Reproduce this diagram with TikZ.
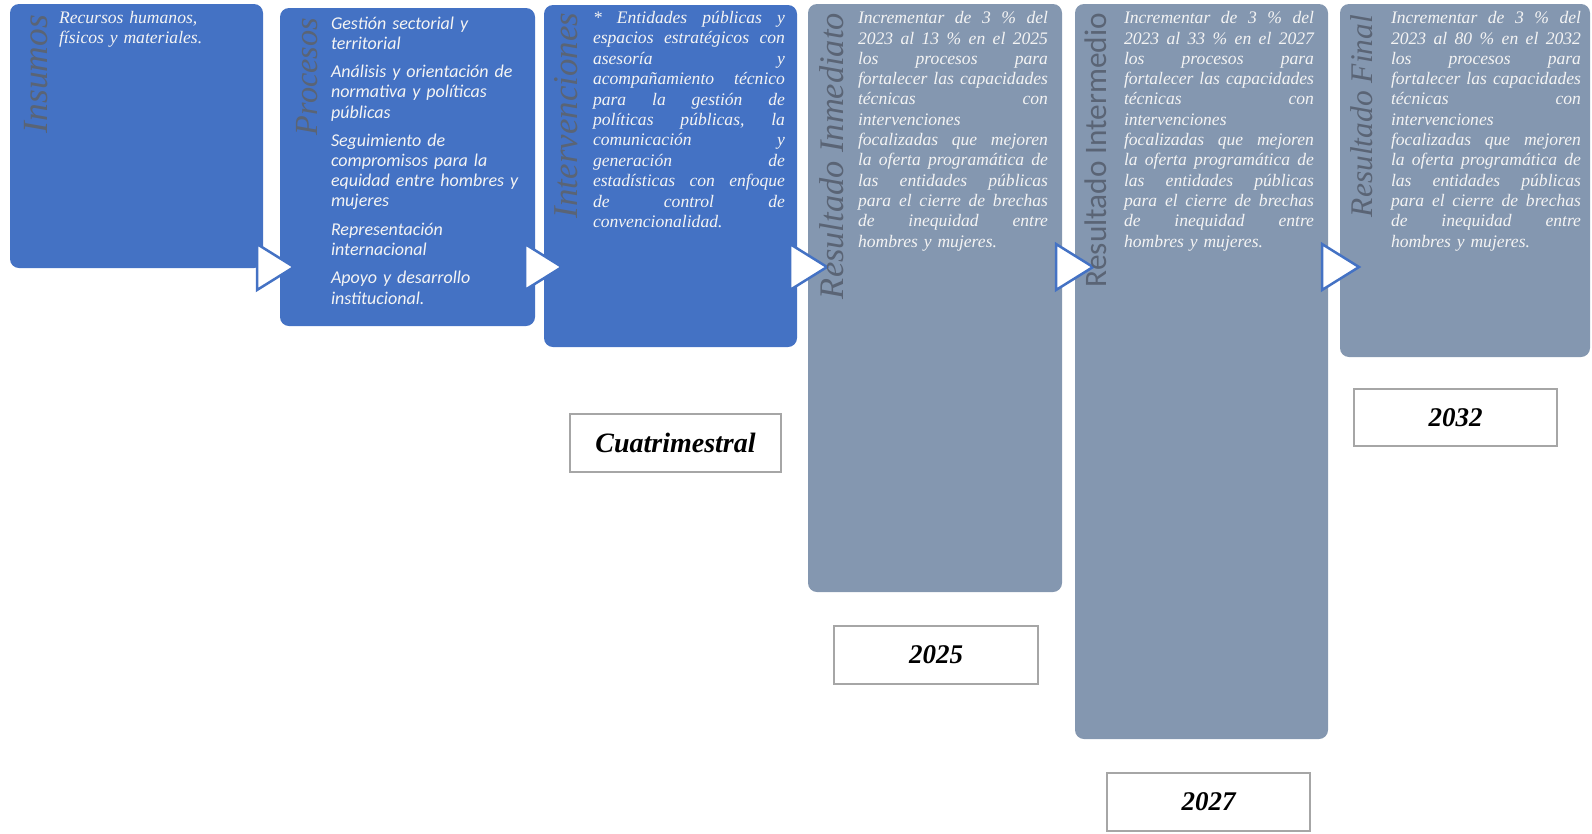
\documentclass[tikz,border=0pt]{standalone}
\usepackage{fontspec}
\setmainfont{Liberation Serif}
\newfontfamily\calibrifont{Carlito}
\definecolor{boxblue}{HTML}{4472C4}
\definecolor{boxgray}{HTML}{8497B0}
\definecolor{labelgray}{HTML}{5A6475}
\definecolor{txt}{HTML}{F4F4F4}
\definecolor{yearborder}{HTML}{A6A6A6}
\newcommand{\mybody}{\itshape\fontsize{17.6}{20.3}\selectfont}
\newcommand{\myinterv}{\itshape\fontsize{17.6}{20.4}\selectfont}
\newcommand{\myproc}{\calibrifont\itshape\fontsize{18}{20.15}\selectfont}
\newcommand{\myyear}{\bfseries\itshape\fontsize{27}{30}\selectfont}
\begin{document}
\begin{tikzpicture}[x=1pt,y=-1pt]
\tikzset{
  stage/.style={rounded corners=9pt, inner sep=0pt, outer sep=0pt, anchor=north west},
  bluestage/.style={stage, fill=boxblue},
  graystage/.style={stage, fill=boxgray},
  body/.style={inner sep=0pt, outer sep=0pt, anchor=north west, text=txt, align=left},
  vlabel/.style={inner sep=0pt, outer sep=0pt, rotate=90, anchor=base east, text=labelgray},
  yearbox/.style={draw=yearborder, line width=2.5pt, fill=white, inner sep=0pt, font=\myyear},
  arrowhead/.style={fill=white, draw=boxblue, line width=2.5pt, line join=miter},
}
\useasboundingbox (0,0) rectangle (1592,833);

% stages
\node[bluestage, minimum width=253pt, minimum height=264pt] (insumos) at (10,4) {};
\node[bluestage, minimum width=255pt, minimum height=318pt] (procesos) at (280,8) {};
\node[bluestage, minimum width=253pt, minimum height=342pt] (interv) at (544,5) {};
\node[graystage, minimum width=254pt, minimum height=588pt] (inmediato) at (808,4) {};
\node[graystage, minimum width=253pt, minimum height=735pt] (intermedio) at (1075,4) {};
\node[graystage, minimum width=250pt, minimum height=353pt] (final) at (1340,4) {};

% arrows between stages
\draw[arrowhead] (257,244) -- (294,267) -- (257,290) -- cycle;
\draw[arrowhead] (525,244) -- (562,267) -- (525,290) -- cycle;
\draw[arrowhead] (790,244) -- (827,267) -- (790,290) -- cycle;
\draw[arrowhead] (1056,244) -- (1093,267) -- (1056,290) -- cycle;
\draw[arrowhead] (1322,244) -- (1359,267) -- (1322,290) -- cycle;

% vertical labels
\node[vlabel] (lbinsumos) at (47,15) {\resizebox{118pt}{!}{\itshape Insumos}};
\node[vlabel] (lbprocesos) at (317,18) {\resizebox{117pt}{!}{\itshape Procesos}};
\node[vlabel] (lbinterv) at (577,13) {\resizebox{205pt}{!}{\itshape Intervenciones}};
\node[vlabel] (lbinmediato) at (843,13) {\resizebox{286pt}{!}{\itshape Resultado Inmediato}};
\node[vlabel] (lbintermedio) at (1106,13) {\resizebox{274pt}{!}{\calibrifont Resultado Intermedio}};
\node[vlabel] (lbfinal) at (1372,15) {\resizebox{202pt}{!}{\itshape Resultado Final}};

% body texts
\node[body, text width=200pt, font=\mybody] (txinsumos) at (59,9) {\strut Recursos humanos,\\ físicos y materiales.};

\node[body, text width=205pt, font=\myproc] (txprocesos) at (331,15) {\strut Gestión sectorial y\\ territorial\\[8.3pt]
Análisis y orientación de\\ normativa y políticas\\ públicas\\[8.3pt]
Seguimiento de\\ compromisos para la\\ equidad entre hombres y\\ mujeres\\[8.3pt]
Representación\\ internacional\\[8.3pt]
Apoyo y desarrollo\\ institucional.};

\node[body, text width=192pt, font=\myinterv] (txinterv) at (593,9.3) {\strut *\hfill Entidades\hfill públicas\hfill y\\
espacios\hfill estratégicos\hfill con\\
asesoría\hfill y\\
acompañamiento\hfill técnico\\
para\hfill la\hfill gestión\hfill de\\
políticas\hfill públicas,\hfill la\\
comunicación\hfill y\\
generación\hfill de\\
estadísticas\hfill con\hfill enfoque\\
de\hfill control\hfill de\\
convencionalidad.};

\node[body, text width=190pt, font=\mybody] (txinmediato) at (858,9.5) {\strut Incrementar\hfill de\hfill 3\hfill \%\hfill del\\
2023\hfill al\hfill 13\hfill \%\hfill en\hfill el\hfill 2025\\
los\hfill procesos\hfill para\\
fortalecer\hfill las\hfill capacidades\\
técnicas\hfill con\\
intervenciones\\
focalizadas\hfill que\hfill mejoren\\
la\hfill oferta\hfill programática\hfill de\\
las\hfill entidades\hfill públicas\\
para\hfill el\hfill cierre\hfill de\hfill brechas\\
de\hfill inequidad\hfill entre\\
hombres y mujeres.};

\node[body, text width=190pt, font=\mybody] (txintermedio) at (1124,9.5) {\strut Incrementar\hfill de\hfill 3\hfill \%\hfill del\\
2023\hfill al\hfill 33\hfill \%\hfill en\hfill el\hfill 2027\\
los\hfill procesos\hfill para\\
fortalecer\hfill las\hfill capacidades\\
técnicas\hfill con\\
intervenciones\\
focalizadas\hfill que\hfill mejoren\\
la\hfill oferta\hfill programática\hfill de\\
las\hfill entidades\hfill públicas\\
para\hfill el\hfill cierre\hfill de\hfill brechas\\
de\hfill inequidad\hfill entre\\
hombres y mujeres.};

\node[body, text width=190pt, font=\mybody] (txfinal) at (1391,9.5) {\strut Incrementar\hfill de\hfill 3\hfill \%\hfill del\\
2023\hfill al\hfill 80\hfill \%\hfill en\hfill el\hfill 2032\\
los\hfill procesos\hfill para\\
fortalecer\hfill las\hfill capacidades\\
técnicas\hfill con\\
intervenciones\\
focalizadas\hfill que\hfill mejoren\\
la\hfill oferta\hfill programática\hfill de\\
las\hfill entidades\hfill públicas\\
para\hfill el\hfill cierre\hfill de\hfill brechas\\
de\hfill inequidad\hfill entre\\
hombres y mujeres.};

% time boxes
\node[yearbox, minimum width=211pt, minimum height=58pt] (tcuatri) at (675.5,443) {\fontsize{28}{30}\selectfont Cuatrimestral};
\node[yearbox, minimum width=204pt, minimum height=58pt] (t2025) at (936,655) {2025};
\node[yearbox, minimum width=203pt, minimum height=58pt] (t2027) at (1208.5,802) {2027};
\node[yearbox, minimum width=203pt, minimum height=57pt] (t2032) at (1455.5,417.5) {2032};
\end{tikzpicture}
\end{document}
